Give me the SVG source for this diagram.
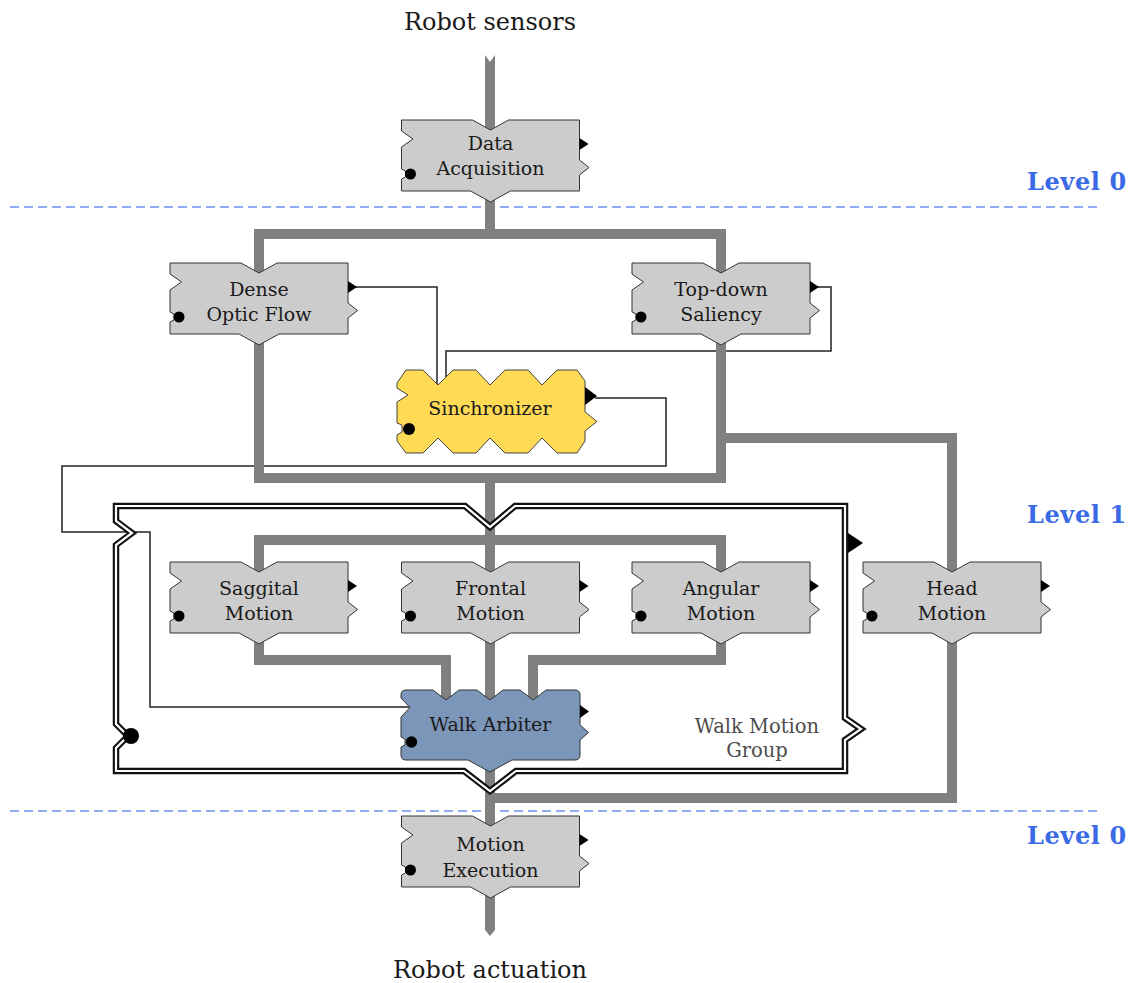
<svg xmlns="http://www.w3.org/2000/svg" xmlns:xlink="http://www.w3.org/1999/xlink" width="1136" height="983" viewBox="0 0 1136 983">
<style>
.t{font-family:"DejaVu Serif","Liberation Serif",serif;font-size:19px;fill:#1a1a1a;text-anchor:middle}
.big{font-family:"DejaVu Serif","Liberation Serif",serif;font-size:24px;fill:#1a1a1a;text-anchor:middle}
.lvl{font-family:"DejaVu Serif","Liberation Serif",serif;font-size:24px;font-weight:bold;fill:#3a6ae6;text-anchor:start;letter-spacing:0.6px}
.grp{font-family:"DejaVu Serif","Liberation Serif",serif;font-size:19.5px;fill:#4d4d4d;text-anchor:middle}
.pipe{fill:none;stroke:#808080;stroke-width:10;stroke-linejoin:miter;stroke-linecap:butt}
.pipeend{fill:#808080;stroke:none}
.wire{fill:none;stroke:#222;stroke-width:1.5}
.dash{stroke:#6f8ff0;stroke-width:1.3;stroke-dasharray:9 5}
.box{fill:#cccccc;stroke:#333;stroke-width:1}
</style>
<defs>
<g id="blk">
<path d="M -89,0 H -18 L 0,10 L 18,0 H 89 V 40 L 98.5,47.5 L 89,55 V 71 H 20 L 0,82 L -20,71 H -89 V 59 L -85,57 L -85,51 L -89,49 V 27 L -77.5,19 L -89,11 Z"/>
<path d="M 89,18 L 98,24 L 89,30 Z" fill="#000" stroke="none"/>
<circle cx="-80" cy="54" r="5.5" fill="#000" stroke="none"/>
</g>
</defs>

<!-- dashed level separators -->
<line class="dash" x1="10" y1="207" x2="1100" y2="207"/>
<line class="dash" x1="10" y1="811" x2="1100" y2="811"/>
<text class="lvl" x="1027" y="190">Level 0</text>
<text class="lvl" x="1027" y="523">Level 1</text>
<text class="lvl" x="1027" y="844">Level 0</text>

<text class="big" x="490" y="30">Robot sensors</text>
<text class="big" x="490" y="978">Robot actuation</text>

<g id="connectors">
<!-- thin signal wires -->
<path class="wire" d="M 355,287 H 437 V 390"/>
<path class="wire" d="M 815,287 H 831 V 351 H 446 V 390"/>
<path class="wire" d="M 595,398 H 666 V 466 H 62 V 532 H 150 V 707 H 410"/>
<!-- thick data pipes -->
<polygon class="pipeend" points="485,55 490,62 495,55 495,160 485,160"/>
<path class="pipe" d="M 490,160 V 234 M 259,280 V 234 H 721 V 280"/>
<path class="pipe" d="M 259,300 V 478 H 721 V 300 M 721,438 H 952 V 590 M 490,478 V 590 M 259,590 V 540 H 721 V 590"/>
<path class="pipe" d="M 259,600 V 660 H 446 V 700 M 490,600 V 700 M 721,600 V 660 H 533 V 700"/>
<path class="pipe" d="M 490,740 V 850 M 952,600 V 798 H 490"/>
<polygon class="pipeend" points="485,850 495,850 495,930 490,936 485,930"/>
</g>

<g id="walk-motion-group">
<path d="M 116,506 H 465 L 490,527 L 515,506 H 845 V 718 L 861,729 L 845,740 V 771 H 516 L 490,791 L 464,771 H 116 V 748 L 128,736 L 116,724 V 545 L 132,533 L 116,521 Z" fill="none" stroke="#111" stroke-width="6.5"/>
<path d="M 116,506 H 465 L 490,527 L 515,506 H 845 V 718 L 861,729 L 845,740 V 771 H 516 L 490,791 L 464,771 H 116 V 748 L 128,736 L 116,724 V 545 L 132,533 L 116,521 Z" fill="none" stroke="#fff" stroke-width="2.2"/>
<polygon points="848,533 863,543 848,553" fill="#000"/>
<circle cx="131" cy="736" r="8" fill="#000"/>
<text class="grp" x="757" y="733">Walk Motion</text>
<text class="grp" x="757" y="757">Group</text>
</g>

<g id="data-acquisition">
<use xlink:href="#blk" x="490.5" y="120" class="box"/>
<text class="t" x="490.5" y="150">Data</text>
<text class="t" x="490.5" y="175">Acquisition</text>
</g>

<g id="dense-optic-flow">
<use xlink:href="#blk" x="259" y="263" class="box"/>
<text class="t" x="259" y="296">Dense</text>
<text class="t" x="259" y="321">Optic Flow</text>
</g>

<g id="top-down-saliency">
<use xlink:href="#blk" x="721" y="263" class="box"/>
<text class="t" x="721" y="296">Top-down</text>
<text class="t" x="721" y="321">Saliency</text>
</g>

<g id="sinchronizer">
<path d="M 397,383 L 406,370 H 423 L 438,385 L 453,370 H 476 L 490,385 L 505,370 H 528 L 542,385 L 557,370 H 577 L 585,381 V 387 V 412 L 597,421.5 L 585,431 V 441 L 577,453 H 557 L 542,438 L 528,453 H 505 L 490,438 L 476,453 H 453 L 438,438 L 423,453 H 406 L 397,441 V 435 L 402,432 L 402,425 L 397,423 V 402 L 408,395 L 397,388 Z" fill="#ffda55" stroke="#444" stroke-width="1"/>
<path d="M 585,387 L 597,396 L 585,405 Z" fill="#000"/>
<circle cx="409" cy="429" r="6" fill="#000"/>
<text class="t" x="490" y="415">Sinchronizer</text>
</g>

<g id="saggital-motion">
<use xlink:href="#blk" x="259" y="562" class="box"/>
<text class="t" x="259" y="595">Saggital</text>
<text class="t" x="259" y="620">Motion</text>
</g>

<g id="frontal-motion">
<use xlink:href="#blk" x="490.5" y="562" class="box"/>
<text class="t" x="490.5" y="595">Frontal</text>
<text class="t" x="490.5" y="620">Motion</text>
</g>

<g id="angular-motion">
<use xlink:href="#blk" x="721" y="562" class="box"/>
<text class="t" x="721" y="595">Angular</text>
<text class="t" x="721" y="620">Motion</text>
</g>

<g id="head-motion">
<use xlink:href="#blk" x="952" y="562" class="box"/>
<text class="t" x="952" y="595">Head</text>
<text class="t" x="952" y="620">Motion</text>
</g>

<g id="walk-arbiter">
<path d="M 406,690 H 433 L 446,700 L 459,690 H 477 L 490,700 L 503,690 H 520 L 533,700 L 546,690 H 575 Q 580,690 580,695 V 725 L 588.5,732.5 L 580,740 V 755 Q 580,760 575,760 H 512 L 490,772 L 468,760 H 406 Q 401,760 401,755 V 747 L 405,745 L 405,739 L 401,737 V 717 L 410,707.5 L 401,698 V 695 Q 401,690 406,690 Z" fill="#7b96b9" stroke="#333" stroke-width="1"/>
<path d="M 580,705 L 589,711.5 L 580,718 Z" fill="#000"/>
<circle cx="411.5" cy="742" r="5.7" fill="#000"/>
<text class="t" x="490.5" y="731">Walk Arbiter</text>
</g>

<g id="motion-execution">
<use xlink:href="#blk" x="490.5" y="816" class="box"/>
<text class="t" x="490.5" y="851">Motion</text>
<text class="t" x="490.5" y="877">Execution</text>
</g>
</svg>
